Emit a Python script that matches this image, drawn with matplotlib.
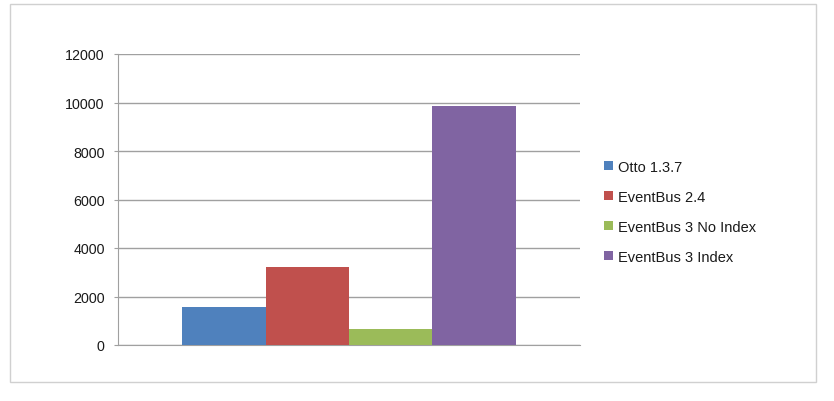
import matplotlib
matplotlib.use("Agg")
import matplotlib.pyplot as plt
from matplotlib.patches import Rectangle

series = ["Otto 1.3.7", "EventBus 2.4", "EventBus 3 No Index", "EventBus 3 Index"]
values = [1550, 3220, 680, 9870]
colors = ["#4F81BD", "#C0504D", "#9BBB59", "#8064A2"]
yticks = [0, 2000, 4000, 6000, 8000, 10000, 12000]

plt.rcParams['font.family'] = ['Liberation Sans', 'DejaVu Sans']

fig = plt.figure(figsize=(8.34, 4.02), dpi=100)
fig.patches.append(Rectangle((10/834, 1-383/402), 806/834, 378/402, transform=fig.transFigure,
                             fill=False, edgecolor="#D0D0D0", linewidth=1))
ax = fig.add_axes([118/834, 1-346/402, 462/834, 291/402])

w = 0.1807
n = len(series)
for i, (s, v, c) in enumerate(zip(series, values, colors)):
    x = 0.5 + (i - (n-1)/2) * w
    ax.bar(x, v, width=w, color=c, label=s, zorder=3)

ax.set_xlim(0, 1)
ax.set_ylim(0, 12000)
ax.set_yticks(yticks)
ax.set_yticklabels([str(t) for t in yticks], fontsize=10.3, color="#1A1A1A")
ax.set_xticks([])
ax.yaxis.grid(True, color="#A0A0A0", linewidth=1, zorder=0)
for sp in ["top", "right"]:
    ax.spines[sp].set_visible(False)
ax.spines["left"].set_color("#A0A0A0")
ax.spines["bottom"].set_color("#A0A0A0")
ax.tick_params(axis="y", length=3, color="#A0A0A0", pad=6.5)

leg = fig.legend(loc="upper left", bbox_to_anchor=(598/834, 1-155/402), frameon=False,
                 fontsize=10.5, handlelength=0.6, handleheight=0.6, handletextpad=0.4,
                 labelspacing=1.1, borderaxespad=0)
for t in leg.get_texts():
    t.set_color("#1A1A1A")

fig.savefig("out.png", dpi=100)
